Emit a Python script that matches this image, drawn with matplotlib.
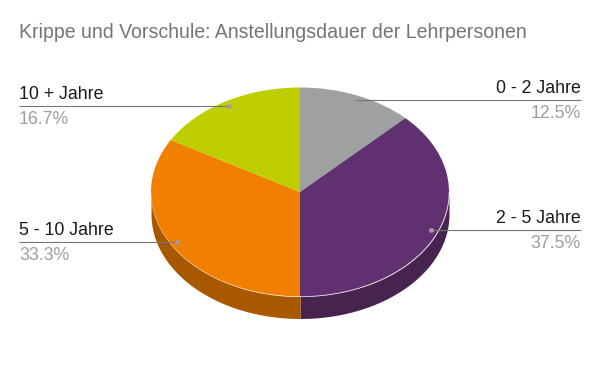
import numpy as np
import matplotlib
matplotlib.use('Agg')
import matplotlib.pyplot as plt

plt.rcParams['font.family'] = ['Liberation Sans', 'DejaVu Sans']

labels = ['0 - 2 Jahre', '2 - 5 Jahre', '5 - 10 Jahre', '10 + Jahre']
values = [12.5, 37.5, 33.3, 16.7]
pct_labels = ['12.5%', '37.5%', '33.3%', '16.7%']
colors = ['#9fa0a1', '#613070', '#f18000', '#bfce00']
dark = ['#6f7071', '#47234f', '#a85900', '#859000']

W, H = 600, 371
cx, cy, rx, ry, depth = 300, 192, 149, 104.5, 22

fig = plt.figure(figsize=(W / 100, H / 100), dpi=100)
ax = fig.add_axes([0, 0, 1, 1])

def px(x):
    return (x - cx) / rx

def py(y):
    return (cy - y) / ry

d = depth / ry
edges = np.concatenate([[0], np.cumsum(values)]) / np.sum(values) * 2 * np.pi

# side wall, only the front half of the ellipse shows
for i in range(len(values)):
    a = max(edges[i], np.pi / 2)
    b = min(edges[i + 1], 3 * np.pi / 2)
    if b <= a:
        continue
    t = np.linspace(a, b, 200)
    ax.fill_between(np.sin(t), np.cos(t), np.cos(t) - d, color=dark[i], lw=0, zorder=1)

ax.pie(values, colors=colors, startangle=90, counterclock=False, radius=1,
       wedgeprops={'lw': 0, 'zorder': 2})
ax.set_aspect('auto')
ax.set_xlim(px(0), px(W))
ax.set_ylim(py(H), py(0))
ax.axis('off')

# light rim on the front edge
t = np.linspace(np.pi / 2, 3 * np.pi / 2, 200)
ax.plot(np.sin(t), np.cos(t), color='white', lw=0.6, alpha=0.35, zorder=3)

fig.text(19 / W, 1 - 32 / H, 'Krippe und Vorschule: Anstellungsdauer der Lehrpersonen',
         fontsize=14.05, color='#757575', va='center', ha='left')

for i in range(len(values)):
    mid = (edges[i] + edges[i + 1]) / 2
    x0 = 0.95 * np.sin(mid)
    y0 = 0.95 * np.cos(mid)
    right = x0 > 0
    xtext = 581 if right else 19
    ax.plot([x0, px(xtext)], [y0, y0], color='#757575', lw=0.8, zorder=4, solid_capstyle='butt')
    ax.plot([x0], [y0], 'o', color='#9e9e9e', ms=3.5, mew=0, zorder=5)
    ypix = cy - y0 * ry
    ha = 'right' if right else 'left'
    fig.text(xtext / W, 1 - (ypix - 11.5) / H, labels[i], fontsize=12.8, color='#1a1a1a',
             ha=ha, va='center')
    fig.text(xtext / W, 1 - (ypix + 13.5) / H, pct_labels[i], fontsize=12.8, color='#9e9e9e',
             ha=ha, va='center')

fig.savefig('out.png', dpi=100, facecolor='white')
